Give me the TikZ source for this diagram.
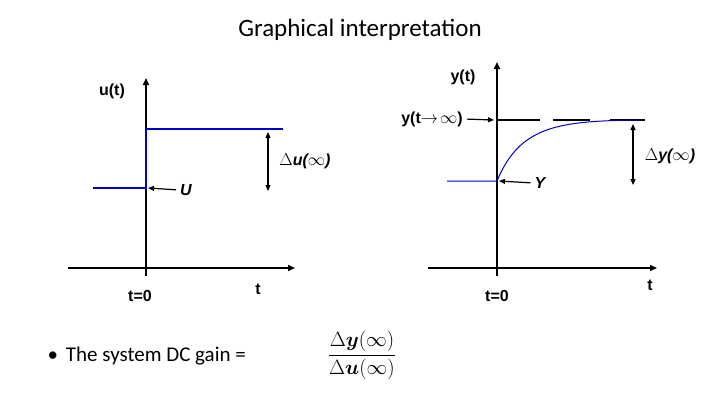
\documentclass[tikz,border=0pt]{standalone}
\usepackage{amsmath,amssymb,bm}
\usepackage{fontspec}
\setmainfont{Carlito}
\newfontfamily\arialf{Liberation Sans}
\usetikzlibrary{arrows.meta}
\begin{document}
\begin{tikzpicture}[x=1pt,y=-1pt,
  ax/.style={line width=1.6pt,-{Triangle[length=7pt,width=6pt]}},
  sig/.style={draw=blue!80!black,line width=1.3pt},
  ptr/.style={line width=1.2pt,-{Triangle[length=6pt,width=5pt]},shorten <=3pt},
  dbl/.style={line width=1.2pt,{Triangle[length=6pt,width=5pt]}-{Triangle[length=6pt,width=5pt]}},
  lab/.style={font=\arialf\bfseries\fontsize{16}{18}\selectfont,inner sep=1pt},
  ilab/.style={font=\arialf\bfseries\itshape\fontsize{16}{18}\selectfont,inner sep=1pt}]
\useasboundingbox (0,0) rectangle (720,405);
\node (title) at (360,30) {\fontsize{25}{30}\selectfont Graphical interpretation};
% left plot
\coordinate (lo) at (146,268);
\draw[line width=1.6pt] (68,268) -- (lo);
\draw[ax] (lo) -- (295,268);
\draw[line width=1.6pt] (146,276) -- (lo);
\draw[ax] (lo) -- (146,78);
\draw[sig] (93,188) -- (146,188) -- (146,129) -- (283,129);
\node[lab] (ut) at (112,91) {u(t)};
\node[ilab] (U) at (186,190) {U};
\coordinate (Ua) at (148,188);
\draw[ptr] (U.west) -- (Ua);
\coordinate (du1) at (268,132); \coordinate (du2) at (268,191);
\draw[dbl] (du1) -- (du2);
\node[ilab] (dul) at (305,161) {$\Delta$u($\infty$)};
\node[lab] (t0l) at (140,296) {t=0};
\node[lab] (tl) at (258,289) {t};
% right plot
\coordinate (ro) at (497,268);
\draw[line width=1.6pt] (428,268) -- (ro);
\draw[ax] (ro) -- (657,268);
\draw[line width=1.6pt] (497,276) -- (ro);
\draw[ax] (ro) -- (497,62);
\draw[line width=2pt] (497,120) -- (540,120) (553,120) -- (590,120) (610,120) -- (645,120);
\draw[sig,line width=1pt] (447,181) -- (497,181) .. controls (520,125) and (560,121) .. (640,120);
\node[lab] (yt) at (463,77) {y(t)};
\node[lab] (yinf) at (432,119) {y(t$\rightarrow\!\infty$)};
\coordinate (ya) at (494,120);
\draw[ptr] (yinf.east) -- (ya);
\node[ilab] (Y) at (540,183) {Y};
\coordinate (Ya) at (499,181);
\draw[ptr] (Y.west) -- (Ya);
\coordinate (dy1) at (633,124); \coordinate (dy2) at (633,185);
\draw[dbl] (dy1) -- (dy2);
\node[ilab] (dyl) at (670,156) {$\Delta$y($\infty$)};
\node[lab] (t0r) at (497,296) {t=0};
\node[lab] (tr) at (650,285) {t};
% bullet
\node[anchor=west] (dc) at (44,356) {\fontsize{21}{25}\selectfont \textbullet\hspace{8pt}The system DC gain =};
\node (frac) at (362,355) {\fontsize{20}{24}\selectfont $\dfrac{\Delta \bm{y}(\infty)}{\Delta \bm{u}(\infty)}$};
\end{tikzpicture}
\end{document}
